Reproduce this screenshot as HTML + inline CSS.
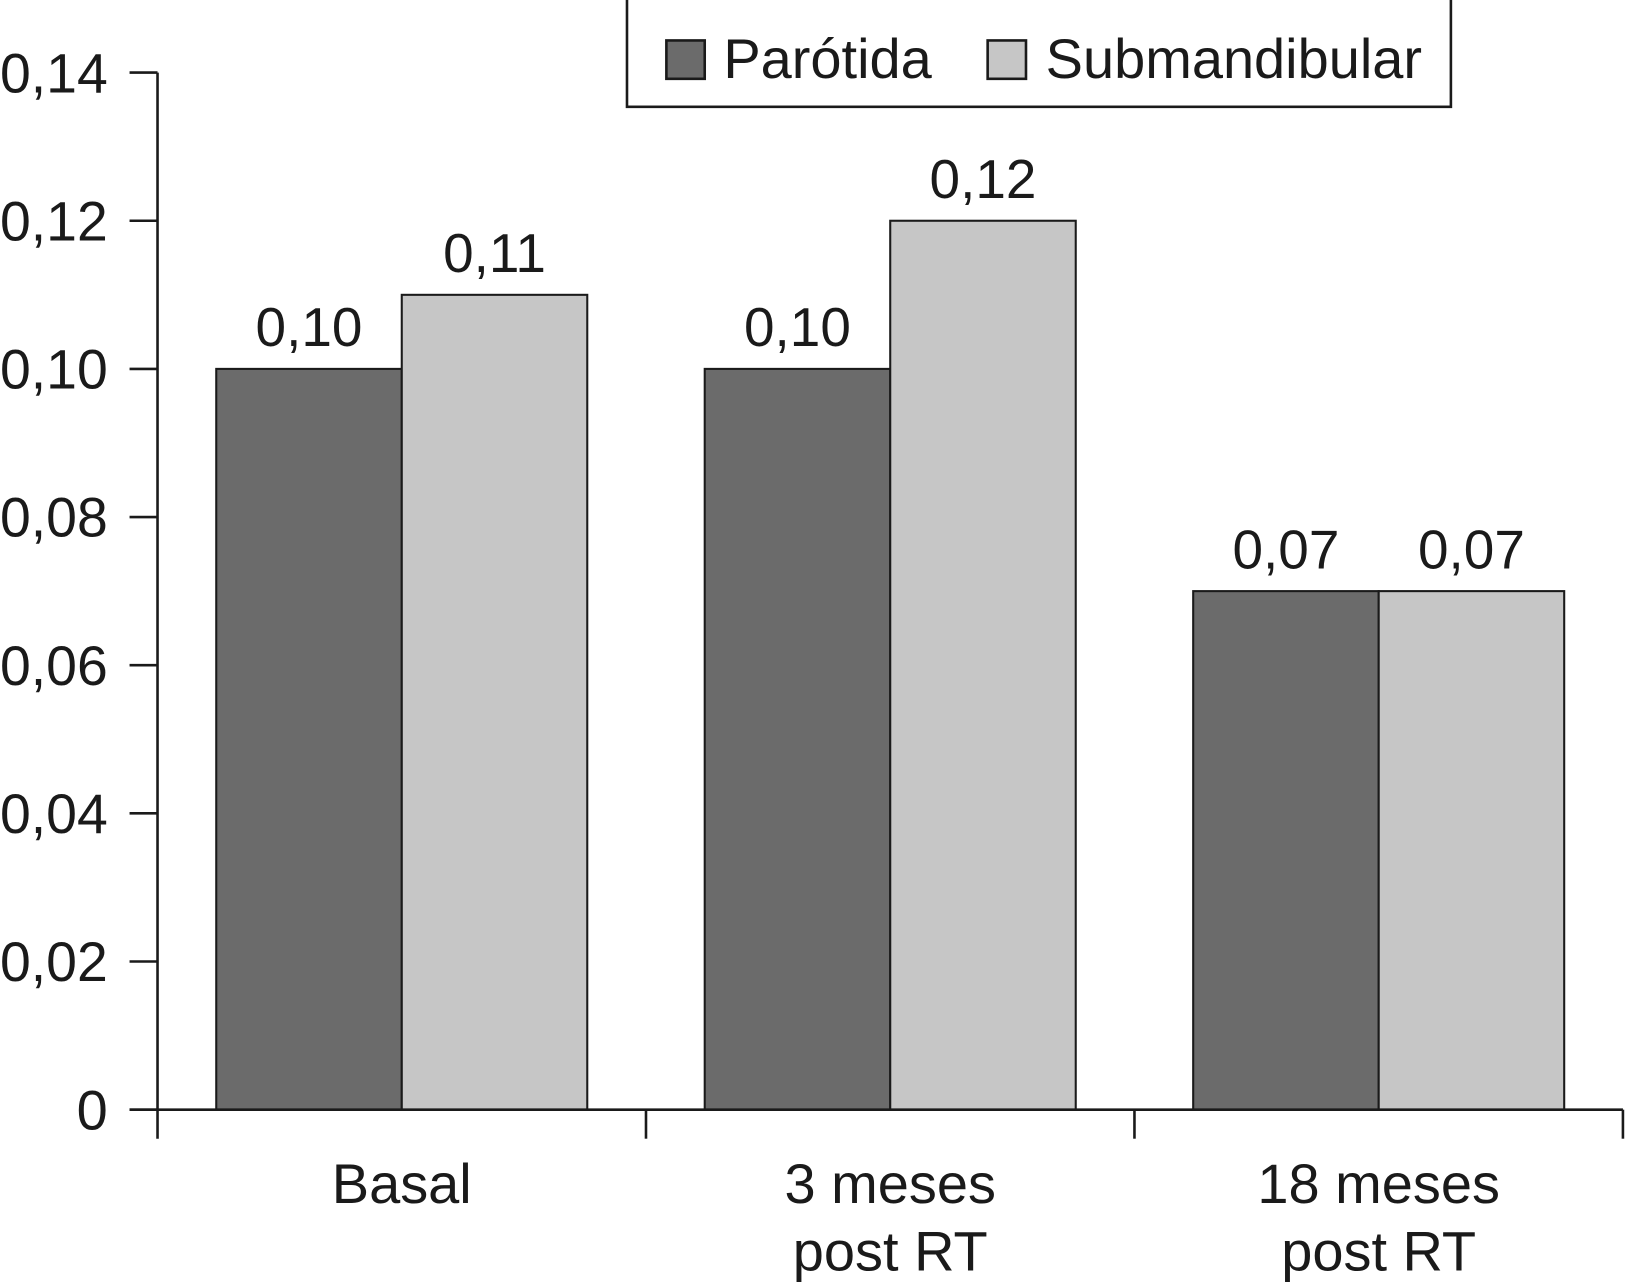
<!DOCTYPE html>
<html><head><meta charset="utf-8"><style>
html,body{margin:0;padding:0;background:#fff;}
svg{display:block;}
text{font-family:"Liberation Sans",Arial,sans-serif;fill:#1a1a1a;}
</style></head><body>
<svg id="chart" width="1625" height="1287" viewBox="0 0 1568 1241" preserveAspectRatio="none" xmlns="http://www.w3.org/2000/svg">
<g id="g"></g>
</svg>
<script>
const categories = [["Basal"], ["3 meses", "post RT"], ["18 meses", "post RT"]];
const parotida = [0.10, 0.10, 0.07];
const submandibular = [0.11, 0.12, 0.07];
const valueLabels = [["0,10", "0,11"], ["0,10", "0,12"], ["0,07", "0,07"]];
const yTicks = [0, 0.02, 0.04, 0.06, 0.08, 0.10, 0.12, 0.14];
const yTickLabels = ["0", "0,02", "0,04", "0,06", "0,08", "0,10", "0,12", "0,14"];

const NS = "http://www.w3.org/2000/svg";
const g = document.getElementById("g");
const x0 = 152, x1 = 1566, yBase = 1070, yTop = 70, yMax = 0.14;
const yS = v => yBase - (v / yMax) * (yBase - yTop);
const groupW = (x1 - x0) / categories.length;
const barW = 179;
const xS = (i, s) => x0 + groupW * i + (groupW / 2 - barW) + s * barW;
function el(tag, attrs, parent) {
  const e = document.createElementNS(NS, tag);
  for (const k in attrs) e.setAttribute(k, attrs[k]);
  (parent || g).appendChild(e);
  return e;
}
categories.forEach((c, i) => {
  [parotida[i], submandibular[i]].forEach((v, s) => {
    const r = el("rect", {x: xS(i, s), y: yS(v), width: barW, height: yBase - yS(v), fill: s ? "#c6c6c6" : "#6b6b6b", stroke: "#1a1a1a", "stroke-width": 2});
    
    
    const t = el("text", {x: xS(i, s) + barW / 2, y: yS(v) - 22, "font-size": 53, "text-anchor": "middle"});
    t.textContent = valueLabels[i][s];
    
    
  });
  categories[i].forEach((line, j) => {
    const t = el("text", {x: x0 + groupW * (i + 0.5), y: 1160 + j * 65, "font-size": 54, "text-anchor": "middle"});
    t.textContent = line;
    
    
  });
});
const ya = el("line", {x1: x0, y1: yTop, x2: x0, y2: 1098, stroke: "#1a1a1a", "stroke-width": 2.5});


const xa = el("line", {x1: 125, y1: yBase, x2: x1, y2: yBase, stroke: "#1a1a1a", "stroke-width": 2.5});


for (let i = 1; i <= categories.length; i++) {
  const l = el("line", {x1: x0 + groupW * i, y1: yBase, x2: x0 + groupW * i, y2: 1098, stroke: "#1a1a1a", "stroke-width": 2.5});
  
  
}
yTicks.forEach((v, i) => {
  const l = el("line", {x1: 125, y1: yS(v), x2: x0, y2: yS(v), stroke: "#1a1a1a", "stroke-width": 2.5});
  
  
  const attrs = {x: 104, y: yS(v) + 19, "font-size": 54, "text-anchor": "end"};
  if (yTickLabels[i].length > 1) { attrs.textLength = 104; attrs.lengthAdjust = "spacingAndGlyphs"; }
  const t = el("text", attrs);
  t.textContent = yTickLabels[i];
  
  
});
</script>
<svg style="position:absolute;left:0;top:0" width="1625" height="1287" viewBox="0 0 1568 1241" preserveAspectRatio="none" xmlns="http://www.w3.org/2000/svg">
<g>
<rect x="605" y="-2" width="795" height="105" fill="#fff" stroke="#1a1a1a" stroke-width="2.5"/>
<rect x="643" y="39" width="37" height="37" fill="#6b6b6b" stroke="#1a1a1a" stroke-width="2.5"/>
<text x="698" y="75" font-size="54">Parótida</text>
<rect x="953" y="39" width="37" height="37" fill="#c6c6c6" stroke="#1a1a1a" stroke-width="2.5"/>
<text x="1009" y="75" font-size="54">Submandibular</text>
</g>
</svg>
</body></html>
